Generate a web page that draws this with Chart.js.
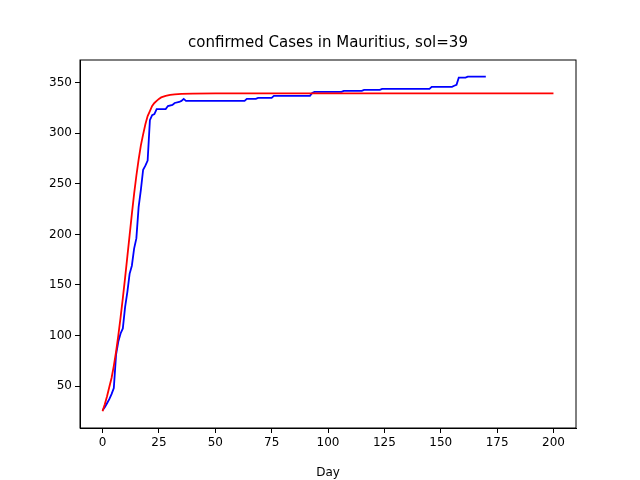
<!DOCTYPE html>
<html>
<head>
<script src="https://cdn.jsdelivr.net/npm/chart.js@4"></script>
<style>body{margin:0;background:#fff}</style>
</head>
<body>
<canvas id="c" width="640" height="480"></canvas>
<script>
// blue: reported confirmed cases (change points)
const blueDays = [0,1,2,3,4,5,6,7,8,9,10,11,12,13,14,15,16,17,18,19,20,21,22,23,24,28,29,31,32,34,35,36,37,63,64,68,69,75,76,92,93,94,106,107,115,116,123,124,145,146,155,156,157,158,161,162,170];
const blueCases = [26,29,33,37,42,48,81,94,102,107,128,143,161,169,186,196,227,244,264,268,273,313,318,319,324,324,327,328,330,331,332,334,332,332,334,334,335,335,337,337,340,341,341,342,342,343,343,344,344,346,346,347,348,355,355,356,356];
// red: fitted model
const redDays = [0,1,2,3,4,5,6,7,8,9,10,11,12,13,14,15,16,17,18,19,20,21,22,23,24,25,26,28,30,32,35,40,50,200];
const redCases = [25,32,40,49,58,70,84,100,118,137,157,178,199,220,240,258,274,288,299,309,317,322,327,330,332,334,335.5,337,338,338.5,339,339.3,339.4,339.4];
const xTicks = [0,25,50,75,100,125,150,175,200];
const yTicks = [50,100,150,200,250,300,350];
const titleText = 'confirmed Cases in Mauritius, sol=39';

const pts = (xs, ys) => xs.map((x, i) => ({x: x, y: ys[i]}));

const frame = {
    id: 'frame',
    afterDraw(chart) {
        const a = chart.chartArea, ctx = chart.ctx;
        ctx.save();
        ctx.strokeStyle = '#000';
        ctx.lineWidth = 1;
        ctx.strokeRect(a.left, a.top, a.right - a.left, a.bottom - a.top);
        // title centred over the plot area
        ctx.fillStyle = '#000';
        ctx.font = '15px "DejaVu Sans"';
        ctx.textAlign = 'center';
        ctx.textBaseline = 'alphabetic';
        ctx.fillText(titleText, (a.left + a.right) / 2, 47);
        ctx.restore();
    }
};

new Chart(document.getElementById('c'), {
    type: 'scatter',
    data: {
        datasets: [{
            data: pts(redDays, redCases),
            showLine: true, borderColor: '#ff0000', borderWidth: 1.8,
            pointRadius: 0
        }, {
            data: pts(blueDays, blueCases),
            showLine: true, borderColor: '#0000ff', borderWidth: 1.8,
            pointRadius: 0
        }]
    },
    options: {
        responsive: false,
        animation: false,
        layout: { padding: { left: 0, right: 64, top: 60, bottom: 0 } },
        plugins: {
            legend: { display: false },
            tooltip: { enabled: false },
            title: { display: false }
        },
        scales: {
            x: {
                type: 'linear', min: -10, max: 210,
                afterBuildTicks: a => { a.ticks = xTicks.map(v => ({value: v})); },
                afterFit: a => { a.height = 52; },
                grid: { drawOnChartArea: false, tickLength: 5, color: '#000' },
                border: { color: '#000' },
                ticks: { color: '#000', font: { family: 'DejaVu Sans', size: 12 }, maxRotation: 0 },
                title: { display: true, text: 'Day', color: '#000', font: { family: 'DejaVu Sans', size: 12 }, padding: 0 }
            },
            y: {
                min: 8.5, max: 372.5,
                afterBuildTicks: a => { a.ticks = yTicks.map(v => ({value: v})); },
                afterFit: a => { a.width = 80; },
                grid: { drawOnChartArea: false, tickLength: 5, color: '#000' },
                border: { color: '#000' },
                ticks: { color: '#000', font: { family: 'DejaVu Sans', size: 12 } }
            }
        }
    },
    plugins: [frame]
});
</script>
</body>
</html>
